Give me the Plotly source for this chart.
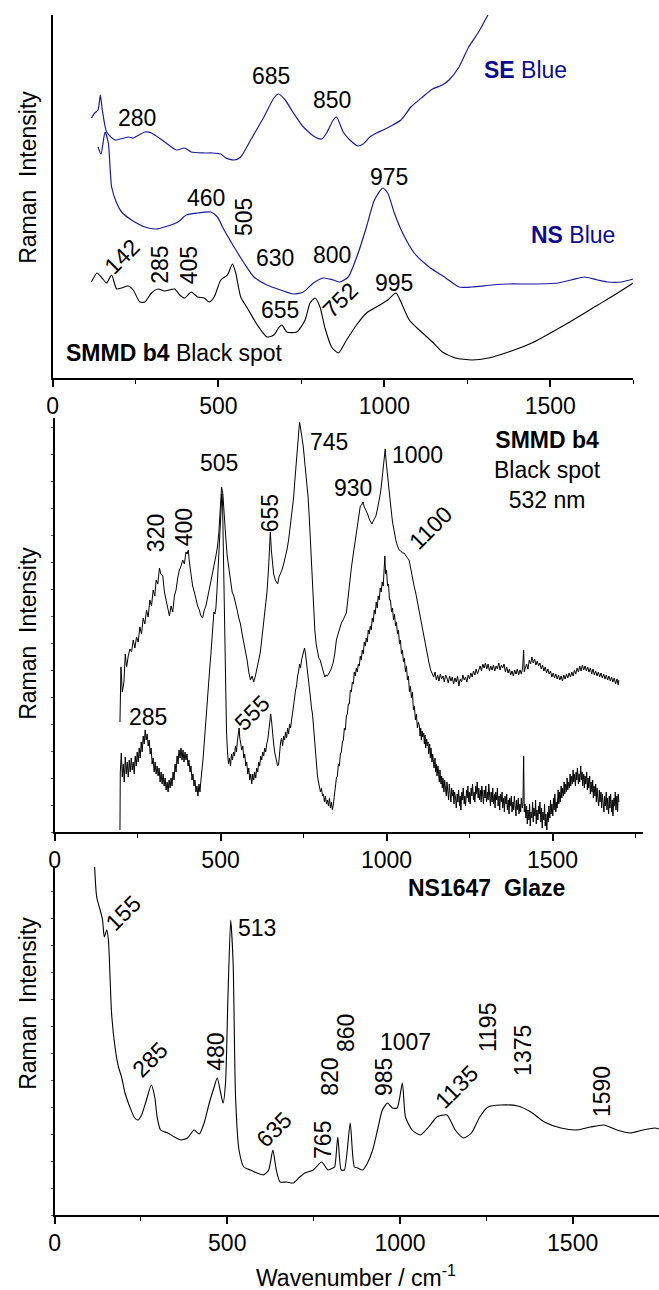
import plotly.graph_objects as go

# ---------------- DATA ----------------
# Panel 1: wavenumber / intensity (arb. units)
se_wn = [117,127,137,144,150,163,188,228,243,278,298,338,373,398,418,457,482,507,522,547,567,597,637,667,681,701,726,756,791,811,826,846,856,876,896,921,936,956,976,996,1020,1050,1080,1115,1145,1175,1195,1225,1254,1284,1312]
se_val = [260,265,268,283,268,246,238,241,240,246,245,236,228,230,226,225,225,224,220,218,221,238,261,280,284,278,265,251,241,239,245,258,261,246,238,232,234,241,245,248,252,258,271,281,289,293,298,311,331,346,363]

ns_wn = [137,146,158,168,178,193,208,238,278,313,338,378,403,437,477,497,517,547,577,607,646,687,726,756,786,816,846,866,891,921,946,970,995,1010,1030,1055,1090,1135,1185,1225,1264,1324,1374,1444,1523,1563,1603,1643,1673,1713,1750]
ns_val = [231,224,246,235,191,175,166,158,151,149,151,156,163,165,166,161,148,131,115,101,93,88,84,86,95,100,98,96,101,125,151,178,190,185,165,145,125,111,100,91,91,93,94,94,95,98,101,98,96,96,99]

bk_wn = [117,134,149,163,178,193,208,228,243,263,278,298,318,338,368,383,398,418,437,457,472,487,507,527,542,552,567,587,617,646,667,681,691,706,736,761,776,791,806,821,841,861,886,916,946,976,1010,1035,1050,1075,1105,1145,1175,1214,1264,1314,1374,1444,1543,1643,1703,1750]
bk_val = [96,105,100,95,103,89,90,92,88,76,76,85,89,87,89,83,80,86,81,80,76,81,98,103,114,105,81,70,53,41,43,50,53,46,46,58,75,80,71,50,31,25,38,53,65,71,78,85,76,58,48,36,26,20,18,20,26,35,53,73,85,95]

# Panel 2 (SMMD b4 black spot, 532 nm): (wavenumber, intensity)
b4_upper = [(197,110),(200,165),(204,140),(209,150),(213,178),(217,165),(222,176),(227,183),(232,180),(237,192),(242,184),(247,195),(252,190),(257,205),(262,198),(267,214),(272,208),(277,222),(282,215),(287,232),(292,226),(297,242),(302,236),(306,252),(311,248),(316,264),(320,258),(326,256),(331,240),(336,232),(341,222),(346,216),(351,226),(356,220),(361,236),(366,242),(371,254),(376,262),(381,266),(386,272),(391,268),(396,280),(399,278),(403,282),(406,270),(411,258),(416,246),(421,240),(426,232),(431,226),(436,222),(441,216),(446,214),(451,222),(456,226),(461,234),(466,242),(471,252),(476,260),(481,266),(486,276),(491,286),(495,300),(499,322),(503,345),(507,338),(511,322),(515,298),(520,276),(525,262),(530,248),(535,240),(540,236),(545,230),(550,222),(555,214),(560,208),(565,198),(570,190),(575,180),(580,172),(585,160),(590,152),(595,156),(600,150),(605,156),(610,166),(615,172),(620,180),(625,194),(630,206),(635,220),(640,240),(645,266),(648,290),(650,300),(653,282),(657,264),(660,258),(665,252),(669,250),(672,248),(676,255),(680,258),(685,262),(690,268),(695,274),(700,282),(705,292),(710,305),(715,316),(720,334),(724,352),(728,370),(732,390),(736,404),(738,410),(741,404),(745,396),(749,386),(753,372),(757,358),(761,344),(764,334),(768,310),(771,288),(774,268),(777,248),(780,226),(784,202),(788,188),(792,180),(796,174),(800,172),(805,166),(810,158),(814,155),(818,157),(822,156),(827,159),(832,162),(836,166),(839,169),(844,178),(849,192),(854,198),(859,204),(864,209),(869,212),(874,215),(879,219),(884,234),(889,252),(894,264),(899,276),(903,285),(908,298),(913,310),(917,319),(921,326),(925,327),(929,330),(933,325),(938,322),(943,318),(948,313),(952,310),(956,308),(960,311),(964,313),(968,316),(972,322),(976,328),(980,336),(983,342),(987,356),(991,368),(994,378),(996,383),(999,370),(1003,355),(1008,340),(1013,325),(1018,310),(1023,299),(1028,292),(1033,286),(1038,282),(1043,281),(1048,279),(1053,279),(1058,276),(1063,274),(1068,272),(1073,262),(1078,254),(1083,246),(1088,239),(1093,230),(1098,220),(1103,212),(1108,202),(1113,194),(1118,185),(1123,176),(1128,169),(1133,162),(1137,159),(1142,155),(1146,160),(1150,152),(1154,157),(1158,151),(1162,158),(1166,153),(1170,156),(1174,150),(1178,157),(1182,154),(1186,149),(1190,156),(1194,151),(1198,155),(1202,148),(1206,154),(1210,150),(1214,156),(1218,146),(1222,153),(1226,150),(1230,157),(1234,152),(1238,155),(1242,150),(1246,157),(1250,153),(1254,159),(1258,155),(1262,161),(1266,157),(1270,163),(1274,158),(1278,162),(1282,166),(1286,161),(1290,168),(1294,164),(1298,169),(1302,163),(1306,168),(1310,161),(1314,166),(1318,162),(1322,167),(1326,161),(1330,166),(1334,163),(1338,169),(1342,162),(1346,167),(1350,164),(1354,168),(1358,160),(1362,165),(1366,159),(1370,163),(1374,157),(1378,161),(1382,156),(1386,162),(1390,158),(1394,163),(1398,157),(1402,162),(1406,158),(1410,164),(1413,182),(1415,160),(1418,164),(1422,168),(1426,163),(1430,172),(1434,168),(1438,175),(1442,169),(1446,173),(1450,167),(1454,171),(1458,166),(1462,169),(1466,163),(1470,167),(1474,161),(1478,165),(1482,159),(1486,163),(1490,158),(1494,161),(1498,155),(1502,159),(1506,154),(1510,158),(1514,153),(1518,157),(1522,152),(1526,156),(1530,151),(1534,157),(1538,153),(1542,158),(1546,154),(1550,159),(1554,155),(1558,160),(1562,156),(1566,162),(1570,158),(1574,164),(1578,160),(1582,166),(1586,161),(1590,167),(1594,162),(1598,166),(1602,161),(1606,165),(1610,160),(1614,164),(1618,158),(1622,163),(1626,157),(1630,161),(1634,156),(1638,160),(1642,155),(1646,159),(1650,154),(1654,158),(1658,153),(1662,157),(1666,152),(1670,156),(1674,151),(1678,155),(1682,150),(1686,154),(1690,148),(1694,153),(1698,147),(1700,152)]

b4_lower = [(197,2),(198,60),(201,79),(204,55),(207,68),(210,50),(213,75),(216,58),(219,70),(222,55),(225,72),(228,60),(231,74),(234,62),(237,70),(240,58),(243,76),(246,66),(249,80),(252,70),(255,84),(258,74),(261,90),(264,80),(267,96),(270,88),(273,102),(276,92),(279,98),(282,86),(285,92),(288,78),(291,84),(294,68),(297,74),(300,60),(303,70),(306,58),(309,66),(312,56),(315,64),(318,50),(321,60),(324,48),(327,58),(330,46),(333,54),(336,42),(339,50),(342,40),(345,52),(348,44),(351,54),(354,46),(357,60),(360,52),(363,68),(366,60),(369,76),(372,68),(375,82),(378,74),(381,84),(384,72),(387,82),(390,70),(393,80),(396,72),(399,78),(402,66),(405,72),(408,60),(411,66),(414,52),(417,58),(420,46),(423,52),(426,40),(429,46),(432,36),(435,48),(438,40),(441,52),(444,60),(447,72),(450,85),(453,100),(456,112),(459,128),(462,140),(465,150),(468,166),(471,178),(474,192),(477,206),(480,220),(483,218),(486,224),(489,240),(492,262),(495,288),(498,305),(501,322),(504,338),(506,330),(508,290),(510,240),(512,200),(514,160),(516,130),(518,100),(521,80),(524,68),(527,74),(530,66),(533,78),(536,72),(539,80),(542,76),(545,86),(548,80),(551,92),(554,102),(556,104),(558,94),(561,88),(564,82),(567,86),(570,74),(573,78),(576,66),(579,70),(582,58),(585,64),(588,52),(591,58),(594,48),(597,58),(600,52),(603,60),(606,54),(609,64),(612,60),(615,70),(618,66),(621,76),(624,72),(627,80),(630,76),(633,84),(636,80),(639,88),(642,92),(645,100),(648,108),(651,118),(654,110),(657,96),(660,88),(663,80),(666,74),(669,70),(672,66),(675,68),(678,80),(681,90),(684,94),(687,86),(690,96),(693,92),(696,100),(699,94),(702,104),(705,98),(708,108),(711,104),(714,112),(717,118),(720,128),(723,134),(726,142),(729,146),(732,156),(735,160),(738,168),(741,164),(744,172),(747,176),(750,180),(753,184),(756,178),(759,170),(762,160),(765,150),(768,142),(771,134),(774,124),(777,118),(780,106),(783,92),(786,80),(789,68),(792,56),(795,50),(798,44),(801,40),(804,44),(807,36),(810,38),(813,30),(816,36),(819,28),(822,32),(825,26),(828,34),(831,24),(834,30),(837,22),(840,28),(843,38),(846,42),(849,54),(852,56),(855,68),(858,66),(861,78),(864,80),(867,90),(870,92),(873,104),(876,102),(879,116),(882,118),(885,128),(888,128),(891,142),(894,140),(897,150),(900,148),(903,160),(906,156),(909,164),(912,160),(915,168),(918,166),(921,176),(924,172),(927,182),(930,178),(933,190),(936,186),(939,194),(942,190),(945,202),(948,198),(951,206),(954,202),(957,214),(960,210),(963,222),(966,218),(969,230),(972,224),(975,236),(978,232),(981,244),(984,240),(987,250),(990,246),(993,266),(995,276),(997,258),(1000,262),(1003,246),(1006,248),(1009,232),(1012,232),(1015,220),(1018,224),(1021,212),(1024,218),(1027,206),(1030,210),(1033,198),(1036,202),(1039,188),(1042,192),(1045,178),(1048,182),(1051,170),(1054,174),(1057,160),(1060,166),(1063,152),(1066,156),(1069,140),(1072,146),(1075,134),(1078,140),(1081,122),(1084,126),(1087,112),(1090,118),(1093,104),(1096,110),(1099,106),(1101,96),(1103,104),(1105,92),(1107,101),(1109,95),(1112,99),(1114,88),(1116,97),(1118,84),(1121,93),(1123,86),(1125,90),(1127,78),(1130,88),(1132,74),(1134,84),(1137,70),(1139,78),(1141,72),(1143,64),(1146,74),(1148,60),(1150,68),(1152,56),(1155,66),(1157,58),(1159,50),(1161,62),(1164,48),(1166,56),(1168,44),(1170,54),(1173,40),(1175,52),(1177,46),(1180,36),(1182,50),(1184,40),(1187,32),(1189,48),(1191,38),(1194,30),(1196,44),(1198,36),(1201,42),(1203,28),(1205,40),(1208,34),(1210,24),(1213,38),(1215,30),(1217,42),(1220,26),(1222,36),(1224,22),(1227,40),(1229,32),(1231,44),(1234,28),(1236,36),(1238,26),(1241,42),(1243,34),(1245,46),(1248,30),(1250,40),(1252,28),(1255,44),(1257,36),(1259,48),(1262,32),(1264,40),(1266,30),(1269,46),(1271,38),(1273,50),(1276,34),(1278,44),(1280,32),(1283,42),(1285,30),(1287,46),(1290,36),(1292,28),(1294,42),(1297,34),(1299,46),(1301,30),(1304,40),(1306,32),(1308,48),(1311,36),(1313,26),(1315,40),(1318,30),(1320,44),(1322,28),(1325,38),(1327,24),(1329,40),(1332,32),(1334,44),(1336,26),(1339,36),(1341,22),(1343,38),(1346,30),(1348,40),(1350,24),(1353,34),(1355,20),(1357,36),(1360,28),(1362,38),(1364,22),(1367,32),(1369,18),(1371,34),(1374,26),(1376,36),(1378,20),(1381,30),(1383,22),(1385,36),(1388,24),(1390,16),(1392,32),(1395,22),(1397,34),(1399,18),(1402,28),(1404,20),(1406,34),(1409,24),(1411,30),(1413,76),(1415,20),(1417,28),(1420,14),(1422,26),(1424,8),(1426,22),(1429,12),(1431,28),(1433,6),(1435,20),(1438,14),(1440,30),(1442,10),(1444,24),(1447,16),(1449,32),(1451,8),(1453,22),(1456,12),(1458,26),(1460,18),(1462,30),(1465,10),(1467,24),(1469,4),(1471,20),(1474,12),(1476,28),(1478,6),(1480,18),(1483,2),(1485,20),(1487,10),(1489,26),(1492,14),(1494,32),(1496,18),(1498,28),(1501,16),(1503,34),(1505,22),(1507,38),(1510,20),(1512,30),(1514,24),(1517,42),(1519,28),(1521,40),(1523,30),(1526,46),(1528,34),(1530,44),(1533,36),(1535,50),(1537,38),(1539,48),(1542,40),(1544,54),(1546,42),(1548,50),(1551,44),(1553,58),(1555,46),(1557,56),(1560,48),(1562,62),(1564,50),(1566,58),(1569,46),(1571,60),(1573,52),(1575,64),(1578,48),(1580,58),(1582,50),(1585,66),(1587,52),(1589,60),(1591,46),(1594,58),(1596,44),(1598,56),(1600,48),(1603,60),(1605,42),(1607,54),(1609,44),(1612,56),(1614,38),(1616,50),(1619,40),(1621,52),(1623,34),(1625,46),(1628,36),(1630,48),(1632,30),(1634,44),(1637,32),(1639,26),(1641,42),(1643,30),(1646,40),(1648,24),(1650,38),(1653,28),(1655,20),(1657,36),(1659,26),(1662,40),(1664,22),(1666,34),(1669,18),(1671,36),(1673,24),(1675,38),(1678,20),(1680,32),(1682,16),(1685,34),(1687,26),(1689,40),(1691,22),(1694,36),(1696,20),(1698,38),(1700,30)]

# Panel 3 (NS1647 glaze)
gl_wn = [116,122,132,139,144,151,156,161,165,175,185,194,204,218,232,242,252,266,280,290,297,307,328,347,366,385,404,419,433,448,462,471,481,488,495,502,510,517,524,534,548,567,586,605,620,632,642,653,672,691,710,725,749,773,792,806,811,820,830,839,856,868,878,892,906,921,935,949,964,978,992,1007,1016,1035,1059,1083,1107,1136,1160,1184,1207,1231,1255,1293,1341,1379,1418,1466,1513,1552,1590,1628,1666,1704,1738,1750]
gl_val = [348,318,305,295,278,285,275,235,202,168,148,138,122,108,97,95,100,115,130,118,98,85,82,78,75,77,85,81,92,112,128,137,122,112,132,218,295,252,118,65,48,45,42,40,45,65,45,33,33,32,38,42,45,53,45,47,48,78,45,45,92,48,47,45,52,65,85,105,112,107,107,132,98,85,80,88,98,100,85,77,82,98,108,110,109,103,93,87,85,88,90,85,82,85,87,86]

# Peak labels: (text, wavenumber, intensity, angle)
p1_labels = [("280",253,260,0),("685",657,302,0),("850",843,278,0),("460",462,180,0),
             ("505",577,161,-90),("630",669,120,0),("800",843,123,0),("975",1013,201,0),
             ("142",208,121,-45),("285",323,113,-90),("405",412,113,-90),("655",684,68,0),
             ("752",867,78,-45),("995",1030,95,0)]
p2_labels = [("320",306,299,-90),("400",391,305,-90),("505",496,369,0),("655",650,319,-90),
             ("745",827,390,0),("930",898,344,0),("1000",1092,377,0),("1100",1132,304,-45),
             ("285",282,115,0),("555",595,119,-45)]
p3_labels = [("155",199,302,-45),("513",586,287,0),("285",275,155,-45),("480",467,163,-90),
             ("635",634,85,-45),("765",777,75,-90),("820",797,138,-90),("860",844,182,-90),
             ("985",954,138,-90),("1007",1016,173,0),("1135",1164,128,-45),("1195",1255,187,-90),
             ("1375",1356,165,-90),("1590",1585,123,-90)]

major_ticks = [0, 500, 1000, 1500]
minor_ticks = [250, 750, 1250, 1750]

# ---------------- FIGURE ----------------
W, H = 659, 1290
FONT = "Liberation Sans, Arial, sans-serif"
FS = 23
BLUE_LINE = "#1c1c9a"
BLUE_TXT = "#0c0c8c"

def px_x(p):
    return p / W

def px_y(p):
    return 1 - p / H

fig = go.Figure()

def add_line(x, y, xa, ya, color, width, shape="linear"):
    fig.add_trace(go.Scatter(x=x, y=y, xaxis=xa, yaxis=ya, mode="lines",
                             line=dict(color=color, width=width, shape=shape, smoothing=0.6),
                             showlegend=False, hoverinfo="skip"))

add_line(se_wn, se_val, "x", "y", BLUE_LINE, 1.2, "spline")
add_line(ns_wn, ns_val, "x", "y", BLUE_LINE, 1.2, "spline")
add_line(bk_wn, bk_val, "x", "y", "black", 1.1, "spline")
add_line([p[0] for p in b4_upper], [p[1] for p in b4_upper], "x2", "y2", "black", 1.0)
add_line([p[0] for p in b4_lower], [p[1] for p in b4_lower], "x2", "y2", "black", 1.0)
add_line(gl_wn, gl_val, "x3", "y3", "black", 1.1, "spline")

def xaxis(domain, rng, anchor):
    return dict(domain=domain, range=rng, anchor=anchor, showline=True, linecolor="black",
                linewidth=1.6, ticks="outside", ticklen=7, tickwidth=1.6, tickcolor="black",
                tickvals=major_ticks, showgrid=False, zeroline=False,
                minor=dict(tickvals=minor_ticks, ticks="outside", ticklen=4, tickwidth=1.4,
                           tickcolor="black", showgrid=False),
                tickfont=dict(family=FONT, size=FS, color="black"), fixedrange=True)

def yaxis(domain, rng, anchor, ticks):
    return dict(domain=domain, range=rng, anchor=anchor, showline=True, linecolor="black",
                linewidth=1.6, ticks=ticks, ticklen=2, tickwidth=1, tickcolor="#555",
                dtick=27, showticklabels=False, showgrid=False, zeroline=False, fixedrange=True)

annotations = []

def add_labels(labels, xr, yr, color="black"):
    for text, wn, val, ang in labels:
        annotations.append(dict(text=text, x=wn, y=val, xref=xr, yref=yr, showarrow=False,
                                textangle=ang, xanchor="center", yanchor="middle",
                                font=dict(family=FONT, size=FS, color=color)))

add_labels(p1_labels, "x", "y")
add_labels(p2_labels, "x2", "y2")
add_labels(p3_labels, "x3", "y3")

annotations += [
    dict(text="<b>SE</b> Blue", x=1426, y=308, xref="x", yref="y", showarrow=False,
         xanchor="center", yanchor="middle", font=dict(family=FONT, size=FS, color=BLUE_TXT)),
    dict(text="<b>NS</b> Blue", x=1567, y=143, xref="x", yref="y", showarrow=False,
         xanchor="center", yanchor="middle", font=dict(family=FONT, size=FS, color=BLUE_TXT)),
    dict(text="<b>SMMD b4</b> Black spot", x=33, y=25, xref="x", yref="y", showarrow=False,
         xanchor="left", yanchor="middle", font=dict(family=FONT, size=FS, color="black")),
    dict(text="<b>SMMD b4</b><br>Black spot<br>532 nm", x=1484, y=362, xref="x2", yref="y2",
         showarrow=False, align="center", xanchor="center", yanchor="middle",
         font=dict(family=FONT, size=FS, color="black")),
    dict(text="<b>NS1647\u00a0 Glaze</b>", x=1250, y=327, xref="x3", yref="y3", showarrow=False,
         xanchor="center", yanchor="middle", font=dict(family=FONT, size=FS, color="black")),
    dict(text="Wavenumber / cm<sup>-1</sup>", x=px_x(353), y=px_y(1276), xref="paper", yref="paper",
         showarrow=False, xanchor="center", yanchor="middle",
         font=dict(family=FONT, size=FS, color="black")),
]
for yc in (177, 633, 1003):
    annotations.append(dict(text="Raman\u00a0 Intensity", x=px_x(22), y=px_y(yc), xref="paper",
                            yref="paper", showarrow=False, textangle=-90,
                            xanchor="center", yanchor="middle",
                            font=dict(family=FONT, size=FS, color="black")))

fig.update_layout(
    width=W, height=H, autosize=False,
    margin=dict(l=0, r=0, t=0, b=0),
    paper_bgcolor="white", plot_bgcolor="white",
    xaxis=xaxis([px_x(47), px_x(633)], [0, 1750], "y"),
    yaxis=yaxis([px_y(378), px_y(15)], [0, 363], "x", ""),
    xaxis2=xaxis([px_x(49), px_x(643)], [0, 1773], "y2"),
    yaxis2=yaxis([px_y(832), px_y(418)], [0, 414], "x2", "outside"),
    xaxis3=xaxis([px_x(49), 1.0], [0, 1750], "y3"),
    yaxis3=yaxis([px_y(1215), px_y(867)], [0, 348], "x3", "outside"),
    annotations=annotations,
)

fig.write_html("out.html")
